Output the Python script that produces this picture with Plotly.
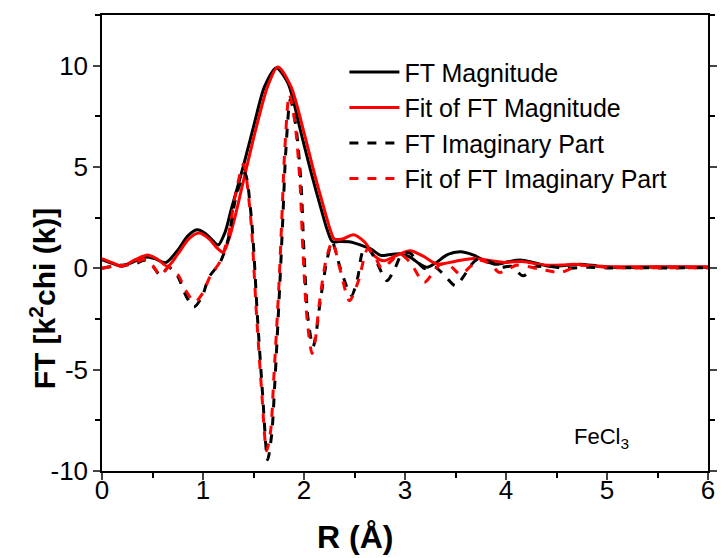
import plotly.graph_objects as go

# FT Magnitude (black solid)
r_mag = [0.00, 0.10, 0.19, 0.30, 0.42, 0.52, 0.63, 0.75, 0.85, 0.94, 1.03, 1.10, 1.15, 1.22, 1.28, 1.40, 1.51,
         1.61, 1.725, 1.84, 1.97, 2.07, 2.17, 2.23, 2.28, 2.35, 2.46, 2.56, 2.66, 2.76, 2.85, 2.95, 3.05, 3.15,
         3.22, 3.30, 3.42, 3.55, 3.68, 3.80, 3.91, 4.02, 4.14, 4.28, 4.44, 4.60, 4.73, 4.90, 5.05, 5.50, 6.00]
ft_mag = [0.43, 0.25, 0.11, 0.30, 0.55, 0.48, 0.28, 0.90, 1.60, 1.90, 1.70, 1.35, 1.15, 1.80, 2.92, 5.05, 7.18,
          8.98, 9.89, 9.15, 6.70, 4.73, 2.92, 1.90, 1.32, 1.32, 1.30, 1.15, 0.96, 0.64, 0.68, 0.72, 0.55, 0.20,
          0.05, 0.25, 0.68, 0.82, 0.65, 0.35, 0.20, 0.32, 0.41, 0.28, 0.09, 0.15, 0.20, 0.12, 0.05, 0.06, 0.05]

# Fit of FT Magnitude (red solid)
r_fmag = [0.00, 0.10, 0.20, 0.32, 0.45, 0.55, 0.65, 0.75, 0.86, 0.96, 1.06, 1.13, 1.20, 1.26, 1.32, 1.42, 1.53,
          1.64, 1.74, 1.87, 2.00, 2.10, 2.20, 2.26, 2.30, 2.38, 2.49, 2.60, 2.70, 2.79, 2.90, 3.05, 3.18, 3.32,
          3.50, 3.68, 3.85, 3.98, 4.08, 4.18, 4.30, 4.44, 4.57, 4.67, 4.85, 5.00, 5.50, 6.00]
fit_mag = [0.48, 0.28, 0.10, 0.40, 0.66, 0.45, 0.10, 0.70, 1.45, 1.74, 1.45, 1.05, 0.79, 1.50, 2.60, 4.73, 7.00,
           8.98, 9.94, 8.98, 6.70, 4.73, 2.92, 1.90, 1.45, 1.45, 1.66, 1.30, 0.60, 0.37, 0.60, 0.87, 0.60, 0.21,
           0.35, 0.49, 0.38, 0.29, 0.32, 0.33, 0.22, 0.15, 0.17, 0.20, 0.12, 0.08, 0.08, 0.08]

# FT Imaginary Part (black dashed)
r_im = [0.00, 0.12, 0.22, 0.32, 0.42, 0.50, 0.58, 0.66, 0.75, 0.83, 0.91, 0.99, 1.06, 1.17, 1.25, 1.33, 1.415,
        1.48, 1.54, 1.59, 1.64, 1.68, 1.71, 1.76, 1.79, 1.82, 1.865, 1.92, 1.97, 2.00, 2.04, 2.09, 2.12, 2.16,
        2.23, 2.28, 2.36, 2.47, 2.53, 2.58, 2.63, 2.72, 2.82, 2.90, 2.97, 3.05, 3.12, 3.19, 3.30, 3.40, 3.50,
        3.58, 3.66, 3.72, 3.85, 3.95, 4.05, 4.17, 4.28, 4.40, 4.60, 4.80, 5.00, 5.30, 5.60, 6.00]
ft_im = [0.00, 0.12, 0.17, 0.20, 0.40, 0.12, -0.35, 0.05, -0.40, -1.34, -1.91, -1.40, -0.43, 0.30, 1.45, 3.60, 4.69,
         2.43, -2.48, -6.20, -9.44, -8.20, -5.76, -0.85, 2.43, 5.80, 8.33, 7.00, 4.24, 0.80, -2.48, -3.87, -3.20, -1.66,
         0.47, 1.29, 0.00, -1.34, -0.50, 0.80, 1.00, 0.30, -0.61, 0.00, 0.70, 0.75, 0.35, 0.00, 0.05, -0.40, -0.86,
         -0.40, 0.20, 0.45, 0.30, 0.05, 0.10, -0.37, 0.05, 0.10, 0.00, 0.05, 0.02, 0.03, 0.02, 0.03]

# Fit of FT Imaginary Part (red dashed)
r_fim = [0.00, 0.12, 0.22, 0.32, 0.42, 0.50, 0.58, 0.66, 0.75, 0.83, 0.92, 1.00, 1.07, 1.17, 1.25, 1.32, 1.40,
         1.47, 1.53, 1.58, 1.63, 1.67, 1.70, 1.75, 1.78, 1.81, 1.855, 1.91, 1.96, 1.99, 2.03, 2.08, 2.11, 2.15,
         2.22, 2.28, 2.36, 2.45, 2.54, 2.63, 2.70, 2.77, 2.85, 2.95, 3.05, 3.19, 3.28, 3.35, 3.45, 3.55, 3.65,
         3.74, 3.85, 3.93, 4.02, 4.10, 4.20, 4.35, 4.54, 4.65, 4.75, 5.00, 5.30, 5.60, 6.00]
fit_im = [0.00, 0.12, 0.15, 0.25, 0.45, 0.15, -0.35, 0.05, -0.30, -1.10, -1.66, -1.20, -0.40, 0.35, 1.60, 3.60, 5.13,
          2.60, -2.30, -6.00, -9.00, -8.00, -5.50, -1.00, 2.40, 5.87, 8.58, 7.20, 4.24, 0.80, -2.48, -4.20, -3.60, -1.80,
          0.45, 1.29, -0.10, -1.60, -0.60, 0.95, 0.60, 0.00, 0.30, 0.70, 0.30, -0.70, -0.20, 0.20, 0.10, -0.30, 0.10,
          0.40, 0.20, -0.20, -0.05, 0.15, 0.10, -0.05, -0.20, 0.00, 0.15, 0.05, 0.02, 0.03, 0.02]

x_ticks = [0, 1, 2, 3, 4, 5, 6]
x_ticktext = ["0", "1", "2", "3", "4", "5", "6"]
y_ticks = [-10, -5, 0, 5, 10]
y_ticktext = ["-10", "-5", "0", "5", "10"]

FONT = "Liberation Sans, Arial, sans-serif"

fig = go.Figure()
fig.add_trace(go.Scatter(x=r_mag, y=ft_mag, mode="lines", name="FT Magnitude",
                         line=dict(color="black", width=3, shape="spline", smoothing=0.8)))
fig.add_trace(go.Scatter(x=r_fmag, y=fit_mag, mode="lines", name="Fit of FT Magnitude",
                         line=dict(color="#ff0000", width=3, shape="spline", smoothing=0.8)))
fig.add_trace(go.Scatter(x=r_im, y=ft_im, mode="lines", name="FT Imaginary Part",
                         line=dict(color="black", width=3, dash="dash", shape="spline", smoothing=0.8)))
fig.add_trace(go.Scatter(x=r_fim, y=fit_im, mode="lines", name="Fit of FT Imaginary Part",
                         line=dict(color="#ff0000", width=3, dash="dash", shape="spline", smoothing=0.8)))

fig.update_layout(
    width=728, height=558,
    margin=dict(l=102, r=11, t=15, b=87),
    plot_bgcolor="white", paper_bgcolor="white",
    font=dict(family=FONT, color="black"),
    showlegend=True,
    legend=dict(x=0.40, y=0.925, xanchor="left", yanchor="top", bgcolor="rgba(0,0,0,0)",
                font=dict(size=25, family=FONT), tracegroupgap=0, itemwidth=50),
    xaxis=dict(range=[0, 6], tickvals=x_ticks, ticktext=x_ticktext, ticks="outside", ticklen=7, tickwidth=1.5,
               showline=True, linecolor="black", linewidth=1.5, mirror=True, showgrid=False, zeroline=False,
               tickfont=dict(size=26, family=FONT), ticklabelstandoff=-12,
               minor=dict(dtick=0.5, ticks="outside", ticklen=5, tickwidth=1.5, tickcolor="black")),
    yaxis=dict(range=[-10, 12.5], tickvals=y_ticks, ticktext=y_ticktext, ticks="outside", ticklen=7, tickwidth=1.5,
               showline=True, linecolor="black", linewidth=1.5, mirror="ticks", showgrid=False, zeroline=False,
               tickfont=dict(size=26, family=FONT),
               minor=dict(dtick=2.5, ticks="outside", ticklen=5, tickwidth=1.5, tickcolor="black")),
    annotations=[
        dict(text="<b>R (Å)</b>", x=(358 - 102) / 613, y=-0.145, xref="paper", yref="paper",
             xanchor="center", yanchor="middle", showarrow=False, font=dict(size=32, family=FONT)),
        dict(text="<b>FT [k<sup>2</sup>chi (k)]</b>", x=-0.098, y=(473 - 300) / 458, xref="paper", yref="paper",
             xanchor="center", yanchor="middle", showarrow=False, textangle=-90, font=dict(size=30, family=FONT)),
        dict(text="FeCl<sub>3</sub>", x=(607 - 102) / 613, y=(473 - 440) / 458, xref="paper", yref="paper",
             xanchor="center", yanchor="middle", showarrow=False, font=dict(size=22, family=FONT)),
    ],
)

fig.write_html("out.html")
